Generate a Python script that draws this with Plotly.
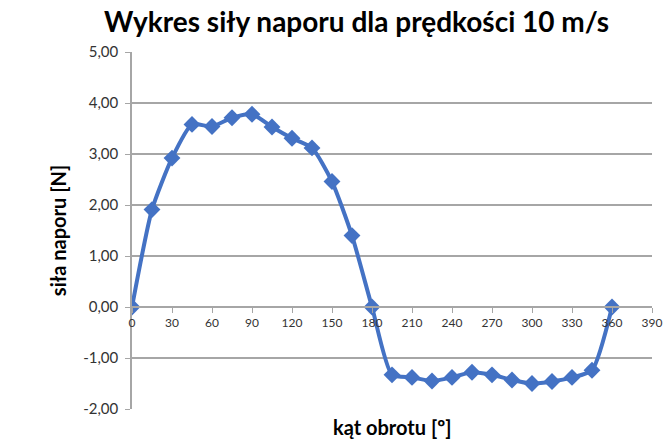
import plotly.graph_objects as go

angles = [0, 15, 30, 45, 60, 75, 90, 105, 120, 135, 150, 165, 180,
          195, 210, 225, 240, 255, 270, 285, 300, 315, 330, 345, 360]
force = [0.00, 1.91, 2.92, 3.58, 3.54, 3.71, 3.78, 3.53, 3.31, 3.12, 2.46, 1.40, 0.00,
         -1.33, -1.38, -1.45, -1.38, -1.28, -1.33, -1.43, -1.50, -1.46, -1.38, -1.24, 0.00]

y_tick_values = [-2, -1, 0, 1, 2, 3, 4, 5]
y_tick_labels = ["-2,00", "-1,00", "0,00", "1,00", "2,00", "3,00", "4,00", "5,00"]

title_text = "Wykres siły naporu dla prędkości 10 m/s"
y_title = "siła naporu [N]"
x_title = "kąt obrotu [º]"

FONT = "Lato"
BLUE = "#4472C4"
GRID = "#a6a6a6"

fig = go.Figure(go.Scatter(
    x=angles, y=force, mode="lines+markers",
    line=dict(color=BLUE, width=4, shape="spline", smoothing=0.6),
    marker=dict(symbol="diamond", size=13, color=BLUE),
    showlegend=False,
))

fig.update_layout(
    width=664, height=441,
    margin=dict(l=132, r=12, t=52, b=32, autoexpand=False),
    paper_bgcolor="white", plot_bgcolor="white",
    font=dict(family=FONT, color="#333333"),
    title=dict(text=f"<b>{title_text}</b>", x=0.537, xanchor="center", y=0.972, yanchor="top",
               font=dict(size=28, color="#000000", family=FONT)),
    xaxis=dict(range=[0, 390], dtick=30, tick0=0, showgrid=False, zeroline=False,
               anchor="free", position=2/7, showline=True, linecolor=GRID, linewidth=1.5,
               ticks="outside", ticklen=5, tickcolor=GRID, automargin=False,
               tickfont=dict(size=12, color="#333333", family=FONT)),
    yaxis=dict(range=[-2, 5], tickmode="array", tickvals=y_tick_values, ticktext=y_tick_labels,
               showgrid=True, gridcolor=GRID, gridwidth=1.5, zeroline=True, zerolinecolor=GRID,
               zerolinewidth=1.5, automargin=False,
               showline=True, linecolor=GRID, linewidth=1.5,
               ticks="outside", ticklen=5, tickcolor=GRID, ticklabelstandoff=4,
               tickfont=dict(size=15, color="#333333", family=FONT)),
)

fig.add_annotation(text=f"<b>{x_title}</b>", xref="paper", yref="paper",
                   x=0.5, y=-0.012, xanchor="center", yanchor="top", showarrow=False,
                   font=dict(size=20, color="#000000", family=FONT))
fig.add_annotation(text=f"<b>{y_title}</b>", xref="paper", yref="paper",
                   x=-0.143, y=0.5, xanchor="center", yanchor="middle", showarrow=False,
                   textangle=-90,
                   font=dict(size=20, color="#000000", family=FONT))

fig.write_html("out.html", config={"displayModeBar": False},
               post_script="document.body.style.margin='0';document.body.style.overflow='hidden';")
